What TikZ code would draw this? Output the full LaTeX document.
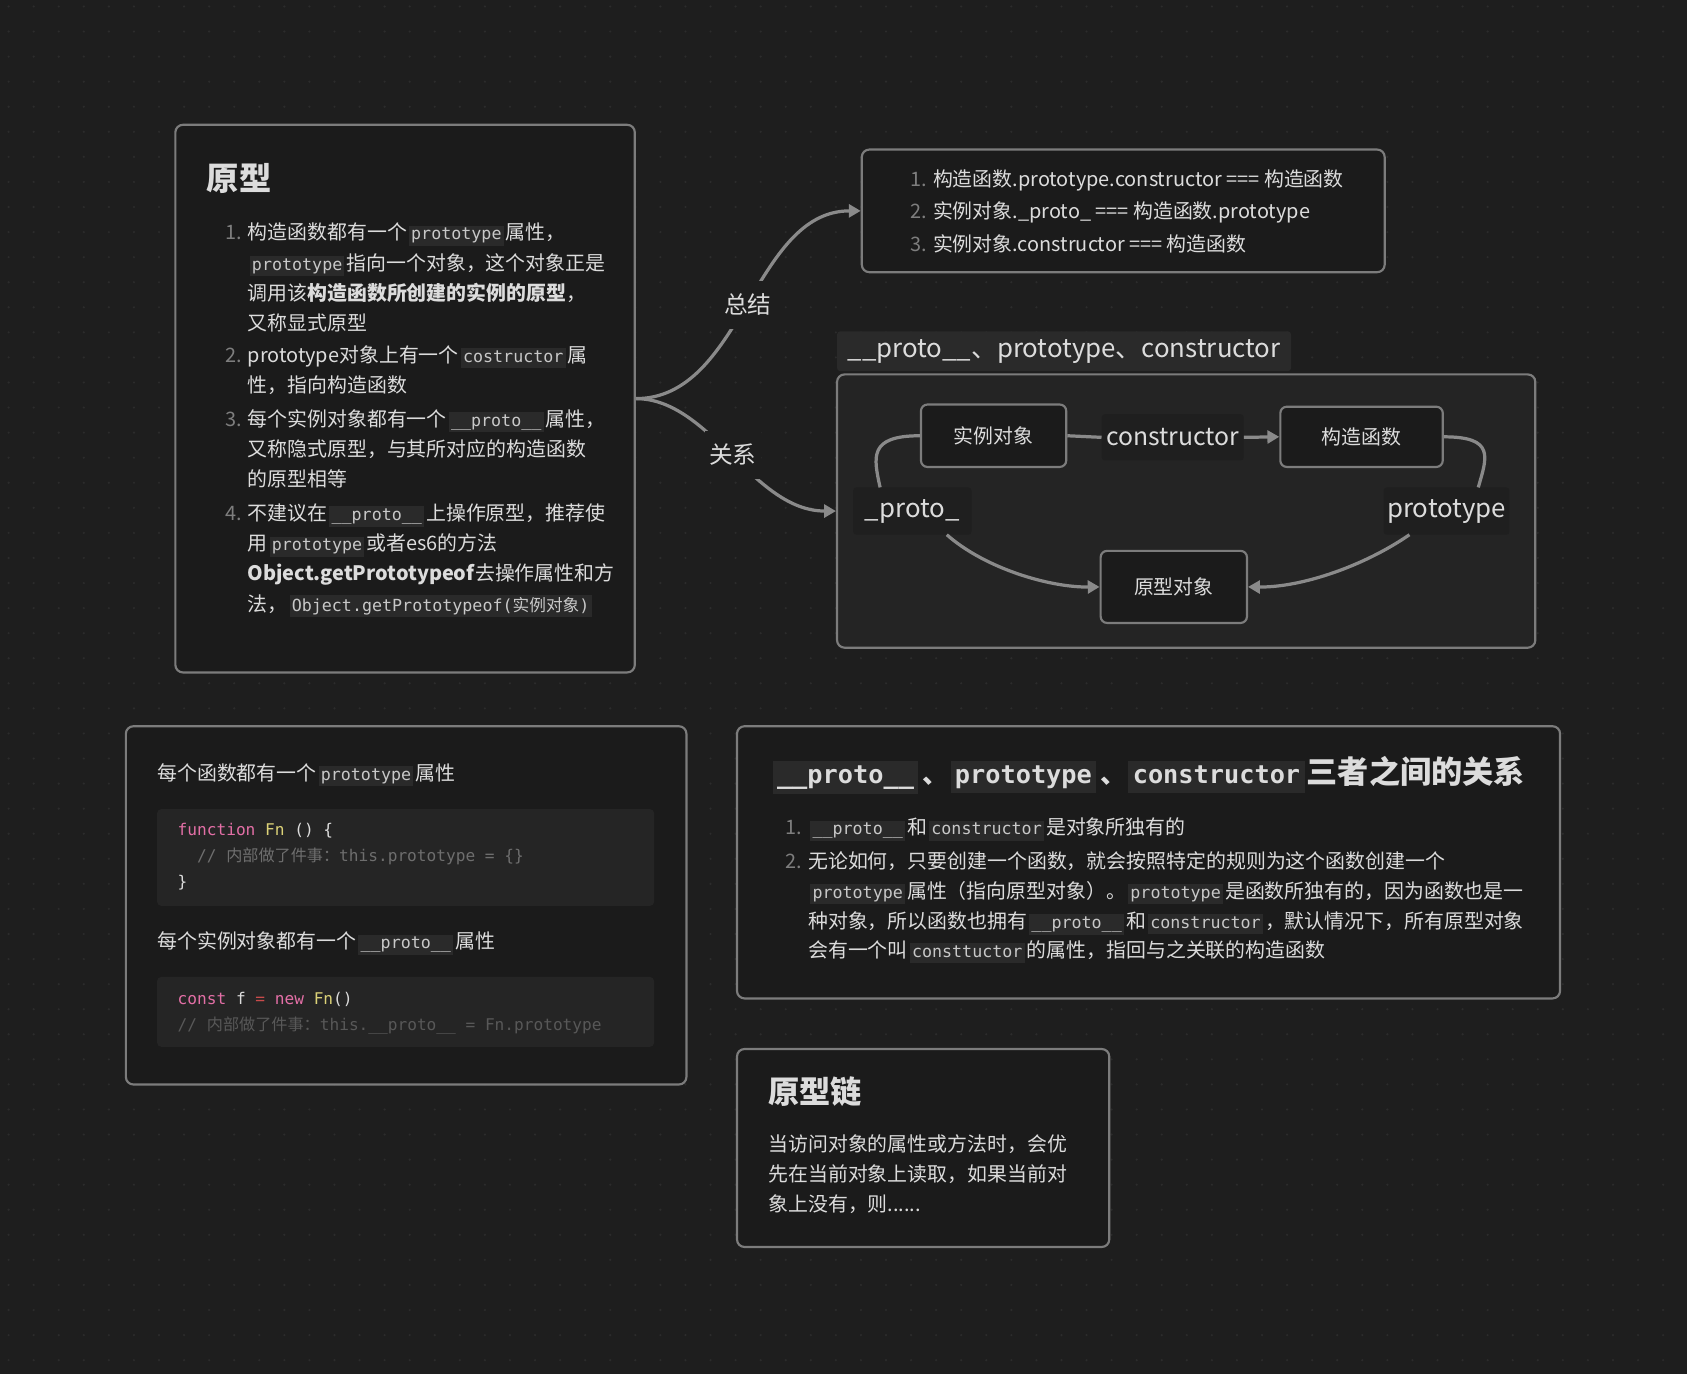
\documentclass[tikz,border=0pt]{standalone}
\usepackage{fontspec}
\setmainfont{Noto Sans CJK SC}
\newfontfamily\cjk{Noto Sans CJK SC}
\newfontfamily\mono{DejaVu Sans Mono}
\usetikzlibrary{arrows.meta}
\definecolor{bgc}{HTML}{1E1E1E}
\definecolor{boxfill}{HTML}{1B1B1B}
\definecolor{grpfill}{HTML}{242424}
\definecolor{bordc}{HTML}{7C7C7C}
\definecolor{codebg}{HTML}{2A2A2A}
\definecolor{codeblk}{HTML}{252525}
\definecolor{codefg}{HTML}{C8C8C8}
\definecolor{fg}{HTML}{DCDCDC}
\definecolor{numc}{HTML}{7E7E7E}
\definecolor{linec}{HTML}{8A8A8A}
\definecolor{dotc}{HTML}{2C2C2C}
\definecolor{kw}{HTML}{E36FA6}
\definecolor{fnc}{HTML}{DCD278}
\definecolor{opc}{HTML}{C84B4B}
\definecolor{cm}{HTML}{6E6E6E}
\definecolor{cmb}{HTML}{585858}
\definecolor{lblfill}{HTML}{1F1F1F}
\newcommand\fs[1]{\fontsize{#1}{#1}\selectfont}
\newcommand\ic[1]{\hspace{2pt}{\setlength{\fboxsep}{2pt}\colorbox{codebg}{\mono\fs{15.5}\color{codefg}\vphantom{Ag}#1}}\hspace{2pt}}
\newcommand\chip[1]{\hspace{2pt}{\setlength{\fboxsep}{4pt}\colorbox{codebg}{\mono\bfseries\fs{23.5}\color{fg}\vphantom{Ag}#1}}\hspace{2pt}}
\tikzset{
  box/.style={draw=bordc, line width=2pt, fill=boxfill, rounded corners=7pt, inner sep=0},
  grp/.style={draw=bordc, line width=2pt, fill=grpfill, rounded corners=7pt, inner sep=0},
  inbox/.style={draw=bordc, line width=2pt, fill=boxfill, rounded corners=6pt, inner sep=0, text=fg, font=\fs{18.5}},
  elbl/.style={fill=lblfill, rounded corners=3pt, inner sep=0, text=fg, font=\fs{23}},
  txt/.style={anchor=base west, inner sep=0, text=fg, font=\fs{18.5}},
  num/.style={anchor=base east, inner sep=0, text=numc, font=\fs{18.5}},
  code/.style={anchor=base west, inner sep=0, text=fg, font=\mono\fs{15}},
  conn/.style={draw=linec, line width=3pt},
  arr/.style={conn, -{Triangle[length=11pt,width=12pt]}},
  brlbl/.style={fill=bgc, inner xsep=4pt, inner ysep=12pt, text=fg, font=\fs{22}},
}
\begin{document}
\begin{tikzpicture}[x=1pt,y=-1pt]
\fill[bgc] (0,0) rectangle (1568,1277);
\useasboundingbox (0,0) rectangle (1568,1277);
\foreach \i in {0,...,67} \foreach \j in {0,...,55} \fill[dotc] (\i*23.3+8,\j*23.3+6) circle (1.1);

% ---------- Box A: 原型 ----------
\node[box, minimum width=427, minimum height=509] (boxA) at (376.5,370.5) {};
\node[txt, font=\fs{30}\bfseries] (tA) at (192,177) {原型};
\node[num] (nA1) at (225,223) {1.};
\node[txt] (a1) at (230,223) {构造函数都有一个\ic{prototype}属性，};
\node[txt] (a2) at (230,251) {\ic{prototype}指向一个对象，这个对象正是};
\node[txt] (a3) at (230,279) {调用该\textbf{构造函数所创建的实例的原型}，};
\node[txt] (a4) at (230,307) {又称显式原型};
\node[num] (nA2) at (225,337) {2.};
\node[txt] (a5) at (230,337) {prototype对象上有一个\ic{costructor}属};
\node[txt] (a6) at (230,365) {性，指向构造函数};
\node[num] (nA3) at (225,396) {3.};
\node[txt] (a7) at (230,396) {每个实例对象都有一个\ic{\_\_proto\_\_}属性，};
\node[txt] (a8) at (230,424) {又称隐式原型，与其所对应的构造函数};
\node[txt] (a9) at (230,452) {的原型相等};
\node[num] (nA4) at (225,484) {4.};
\node[txt] (a10) at (230,484) {不建议在\ic{\_\_proto\_\_}上操作原型，推荐使};
\node[txt] (a11) at (230,512) {用\ic{prototype}或者es6的方法};
\node[txt] (a12) at (230,540) {\textbf{Object.getPrototypeof}去操作属性和方};
\node[txt] (a13) at (230,568) {法，\ic{Object.getPrototypeof({\cjk 实例对象})}};

% ---------- Summary box ----------
\node[box, minimum width=486, minimum height=114] (sumbox) at (1044,196) {};
\node[num] (ns1) at (862,173) {1.};
\node[txt] (s1) at (867,173) {构造函数.prototype.constructor === 构造函数};
\node[num] (ns2) at (862,203) {2.};
\node[txt] (s2) at (867,203) {实例对象.\_proto\_ === 构造函数.prototype};
\node[num] (ns3) at (862,234) {3.};
\node[txt] (s3) at (867,234) {实例对象.constructor === 构造函数};

% ---------- Group box ----------
\node[grp, minimum width=649, minimum height=254] (grp) at (1102.5,475) {};
\node[fill=codebg, rounded corners=3pt, inner sep=0, minimum width=422, minimum height=37, text=fg, font=\fs{24}] (gtitle) at (989,326.5) {\_\_proto\_\_、prototype、constructor};
\node[inbox, minimum width=135, minimum height=58] (inst) at (923.5,405) {实例对象};
\node[elbl, minimum width=132, minimum height=43] (ctor) at (1090,406.5) {constructor};
\node[inbox, minimum width=151, minimum height=56] (fn) at (1265.5,406) {构造函数};
\node[elbl, minimum width=110, minimum height=44, font=\fs{24}] (protoL) at (848,475) {\_proto\_};
\node[elbl, minimum width=117, minimum height=44, font=\fs{24}] (protoT) at (1344.5,475) {prototype};
\node[inbox, minimum width=136, minimum height=67] (orig) at (1091,545.5) {原型对象};
\coordinate (pl1) at (818,453);
\coordinate (pl2) at (880,497);
\coordinate (pt1) at (1374,453);
\coordinate (pt2) at (1310,497);
\draw[conn] (inst.east) -- (ctor.west);
\draw[arr] (ctor.east) -- (fn.west);
\draw[conn] (inst.west) .. controls +(-48,0) and +(-6,-28) .. (pl1);
\draw[arr] (pl2) .. controls (915,528) and (975,546) .. (orig.west);
\draw[conn] (fn.east) .. controls +(48,0) and +(8,-28) .. (pt1);
\draw[arr] (pt2) .. controls (1268,526) and (1210,546) .. (orig.east);

% ---------- branches ----------
\draw[arr] (boxA.east) .. controls (690,370.5) and (700,196) .. (sumbox.west) node[brlbl, pos=0.5] (zj) {总结};
\draw[arr] (boxA.east) .. controls (660,370.5) and (700,475) .. (grp.west) node[brlbl, pos=0.5] (gx) {关系};

% ---------- Box D ----------
\node[box, minimum width=521, minimum height=333] (boxD) at (377.5,841.5) {};
\node[txt] (d1) at (146,725) {每个函数都有一个\ic{prototype}属性};
\node[fill=codeblk, rounded corners=4pt, minimum width=462, minimum height=90, inner sep=0] (cb1) at (377,797) {};
\node[code] (c1) at (165,777) {{\color{kw}function} {\color{fnc}Fn} () \{};
\node[code, text=cm] (c2) at (183,801) {// {\cjk 内部做了件事：}this.prototype = \{\}};
\node[code] (c3) at (165,825) {\}};
\node[txt] (d2) at (146,882) {每个实例对象都有一个\ic{\_\_proto\_\_}属性};
\node[fill=codeblk, rounded corners=4pt, minimum width=462, minimum height=65, inner sep=0] (cb2) at (377,940.5) {};
\node[code] (c4) at (165,934) {{\color{kw}const} f {\color{opc}=} {\color{kw}new} {\color{fnc}Fn}()};
\node[code, text=cmb] (c5) at (165,958) {// {\cjk 内部做了件事：}this.\_\_proto\_\_ = Fn.prototype};

% ---------- Box E ----------
\node[box, minimum width=765, minimum height=253] (boxE) at (1067.5,801.5) {};
\node[txt, font=\fs{24}\bfseries] (eT) at (716,728) {\chip{\_\_proto\_\_}\hspace{2pt}、\chip{prototype}\hspace{2pt}、\chip{constructor}{\fs{29}三者之间的关系}};
\node[num] (ne1) at (746,776) {1.};
\node[txt] (e1) at (751,776) {\ic{\_\_proto\_\_}和\ic{constructor}是对象所独有的};
\node[num] (ne2) at (746,807) {2.};
\node[txt] (e2) at (751,807) {无论如何，只要创建一个函数，就会按照特定的规则为这个函数创建一个};
\node[txt] (e3) at (751,835) {\ic{prototype}属性（指向原型对象）。\ic{prototype}是函数所独有的，因为函数也是一};
\node[txt] (e4) at (751,863) {种对象，所以函数也拥有\ic{\_\_proto\_\_}和\ic{constructor}，默认情况下，所有原型对象};
\node[txt] (e5) at (751,890) {会有一个叫\ic{consttuctor}的属性，指回与之关联的构造函数};

% ---------- Box F ----------
\node[box, minimum width=346, minimum height=184] (boxF) at (858,1067) {};
\node[txt, font=\fs{29}\bfseries] (fT) at (714,1026) {原型链};
\node[txt] (f1) at (714,1070) {当访问对象的属性或方法时，会优};
\node[txt] (f2) at (714,1098) {先在当前对象上读取，如果当前对};
\node[txt] (f3) at (714,1126) {象上没有，则......};
\end{tikzpicture}
\end{document}
